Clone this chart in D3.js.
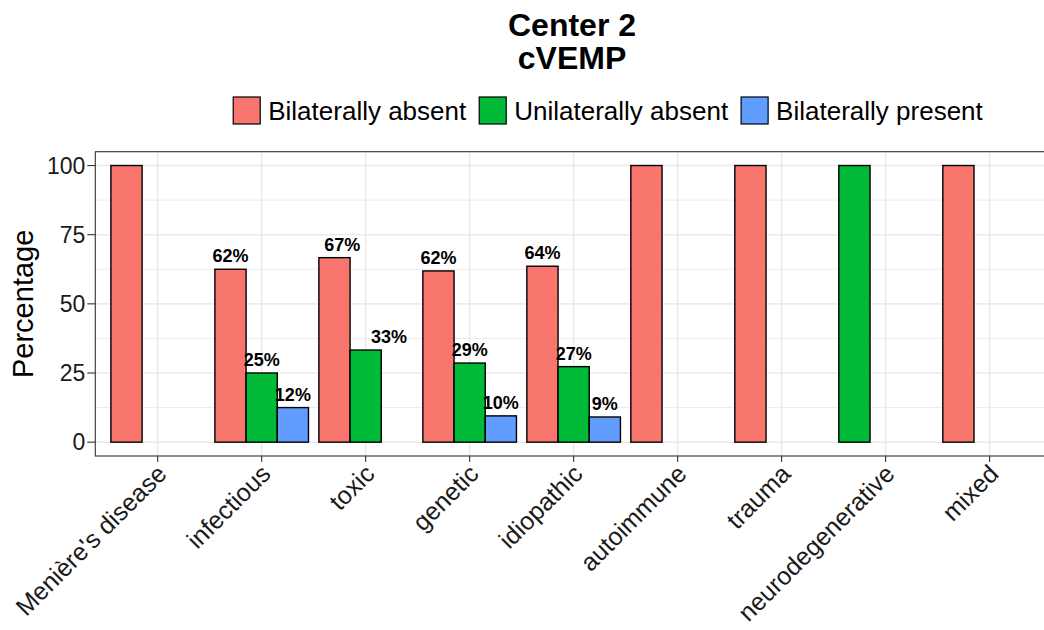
<!DOCTYPE html>
<html lang="en">
  <head>
    <meta charset="utf-8">
    <title>Center 2 cVEMP</title>
    <script src="https://cdn.jsdelivr.net/npm/d3@7"></script>
    <style type="text/css">
      body { margin: 0; background: #fff; }
      svg { font-family: "Liberation Sans", Arial, sans-serif; display: block; }
      .grid line { stroke: #ebebeb; }
      .bar { stroke: #000; stroke-width: 1.4; }
      .label { font-weight: bold; font-size: 18px; text-anchor: middle; }
    </style>
  </head>
  <body>
    <svg width="1044" height="630"></svg>
    <script type="text/javascript">
      // data (percent of patients per aetiology)
      var categories = ["Menière's disease", "infectious", "toxic", "genetic", "idiopathic",
                        "autoimmune", "trauma", "neurodegenerative", "mixed"];
      var seriesNames = ["Bilaterally absent", "Unilaterally absent", "Bilaterally present"];
      var bilatAbsent  = [100, 62.5, 66.7, 61.9, 63.6, 100, 100, null, 100];
      var unilatAbsent = [null, 25, 33.3, 28.6, 27.3, null, null, 100, null];
      var bilatPresent = [null, 12.5, null, 9.5, 9.1, null, null, null, null];
      var yTicks = [0, 25, 50, 75, 100];
      var yMinor = [12.5, 37.5, 62.5, 87.5];

      var seriesValues = [bilatAbsent, unilatAbsent, bilatPresent];
      var colors = ["#F8766D", "#00BA38", "#619CFF"];

      var svg = d3.select("svg"),
          width = +svg.attr("width"),
          height = +svg.attr("height");

      var panel = {left: 95.3, right: 1052, top: 151.7, bottom: 456};

      var x = d3.scaleBand()
        .domain(categories)
        .range([panel.left, panel.right])
        .paddingInner(0)
        .paddingOuter(0.1);
      var step = x.step();

      var y = d3.scaleLinear()
        .domain([-5, 105])
        .range([panel.bottom, panel.top]);

      var color = d3.scaleOrdinal().domain(seriesNames).range(colors);

      // R style rounding (half to even)
      function roundEven(v) {
        var f = Math.floor(v), d = v - f;
        if (Math.abs(d - 0.5) < 1e-9) return f % 2 === 0 ? f : f + 1;
        return Math.round(v);
      }

      // build one row per present bar, dodged like ggplot
      var bars = [];
      categories.forEach(function(c, i) {
        var present = [];
        seriesValues.forEach(function(vals, s) {
          if (vals[i] != null) present.push({cat: c, series: seriesNames[s], value: vals[i]});
        });
        present.forEach(function(d, k) {
          d.barOff = 0.9 * ((k + 0.5) / 3 - 0.5);
          d.textOff = 0.9 * ((k + 0.5) / present.length - 0.5);
          bars.push(d);
        });
      });

      svg.append("clipPath").attr("id", "clip")
        .append("rect")
        .attr("x", panel.left).attr("y", panel.top)
        .attr("width", panel.right - panel.left).attr("height", panel.bottom - panel.top);

      var grid = svg.append("g").attr("class", "grid");
      grid.selectAll(".minor").data(yMinor).enter().append("line")
        .attr("x1", panel.left).attr("x2", panel.right)
        .attr("y1", function(d) { return y(d); }).attr("y2", function(d) { return y(d); })
        .attr("stroke-width", 1);
      grid.selectAll(".hmajor").data(yTicks).enter().append("line")
        .attr("x1", panel.left).attr("x2", panel.right)
        .attr("y1", function(d) { return y(d); }).attr("y2", function(d) { return y(d); })
        .attr("stroke-width", 1.6);
      grid.selectAll(".vmajor").data(categories).enter().append("line")
        .attr("x1", function(d) { return x(d) + step / 2; })
        .attr("x2", function(d) { return x(d) + step / 2; })
        .attr("y1", panel.top).attr("y2", panel.bottom)
        .attr("stroke-width", 1.6);

      svg.append("g").attr("clip-path", "url(#clip)")
        .selectAll("rect").data(bars).enter().append("rect")
        .attr("class", "bar")
        .attr("x", function(d) { return x(d.cat) + step * (0.5 + d.barOff - 0.15); })
        .attr("width", step * 0.3)
        .attr("y", function(d) { return y(d.value); })
        .attr("height", function(d) { return y(0) - y(d.value); })
        .attr("fill", function(d) { return color(d.series); });

      svg.append("g").selectAll("text")
        .data(bars.filter(function(d) { return d.value < 100; }))
        .enter().append("text")
        .attr("class", "label")
        .attr("x", function(d) { return x(d.cat) + step * (0.5 + d.textOff); })
        .attr("y", function(d) { return y(d.value) - 7; })
        .text(function(d) { return roundEven(d.value) + "%"; });

      // panel border
      svg.append("rect")
        .attr("x", panel.left).attr("y", panel.top)
        .attr("width", panel.right - panel.left).attr("height", panel.bottom - panel.top)
        .attr("fill", "none").attr("stroke", "#333").attr("stroke-width", 1.1);

      // y axis
      var yAxis = svg.append("g");
      yAxis.selectAll("line").data(yTicks).enter().append("line")
        .attr("x1", panel.left - 8).attr("x2", panel.left)
        .attr("y1", function(d) { return y(d); }).attr("y2", function(d) { return y(d); })
        .attr("stroke", "#333").attr("stroke-width", 1.1);
      yAxis.selectAll("text").data(yTicks).enter().append("text")
        .attr("x", panel.left - 10)
        .attr("y", function(d) { return y(d); })
        .attr("dy", "0.36em")
        .attr("text-anchor", "end")
        .style("font-size", "23px")
        .attr("fill", "#1a1a1a")
        .text(function(d) { return d; });

      svg.append("text")
        .attr("transform", "translate(32.5," + ((panel.top + panel.bottom) / 2) + ") rotate(-90)")
        .attr("text-anchor", "middle")
        .style("font-size", "29px")
        .text("Percentage");

      // x axis
      var xAxis = svg.append("g");
      xAxis.selectAll("line").data(categories).enter().append("line")
        .attr("x1", function(d) { return x(d) + step / 2; })
        .attr("x2", function(d) { return x(d) + step / 2; })
        .attr("y1", panel.bottom).attr("y2", panel.bottom + 6)
        .attr("stroke", "#333").attr("stroke-width", 1.1);
      xAxis.selectAll("text").data(categories).enter().append("text")
        .attr("transform", function(d) {
          return "translate(" + (x(d) + step / 2 - 2) + "," + (panel.bottom + 7) + ") rotate(-45)";
        })
        .attr("text-anchor", "end")
        .attr("dy", "0.7em")
        .style("font-size", "25px")
        .attr("fill", "#1a1a1a")
        .text(function(d) { return d; });

      // title
      svg.append("text")
        .attr("x", 572).attr("y", 36)
        .attr("text-anchor", "middle")
        .style("font-size", "32px").style("font-weight", "bold")
        .text("Center 2");
      svg.append("text")
        .attr("x", 572).attr("y", 69)
        .attr("text-anchor", "middle")
        .style("font-size", "32px").style("font-weight", "bold")
        .text("cVEMP");

      // legend, laid out from measured text widths and centred
      var legend = svg.append("g").attr("class", "legend");
      var items = legend.selectAll("g").data(seriesNames).enter().append("g");
      items.append("rect")
        .attr("width", 27).attr("height", 27)
        .attr("y", 97)
        .attr("fill", function(d) { return color(d); })
        .attr("stroke", "#000").attr("stroke-width", 1.2);
      items.append("text")
        .attr("x", 35).attr("y", 110.5)
        .attr("dy", "0.36em")
        .style("font-size", "26px")
        .text(function(d) { return d; });
      var pos = 0, offsets = [];
      items.each(function() {
        offsets.push(pos);
        pos += 35 + d3.select(this).select("text").node().getComputedTextLength() + 13;
      });
      var totalW = pos - 13;
      var start = 608 - totalW / 2;
      items.attr("transform", function(d, i) { return "translate(" + (start + offsets[i]) + ",0)"; });
    </script>
  </body>
</html>
